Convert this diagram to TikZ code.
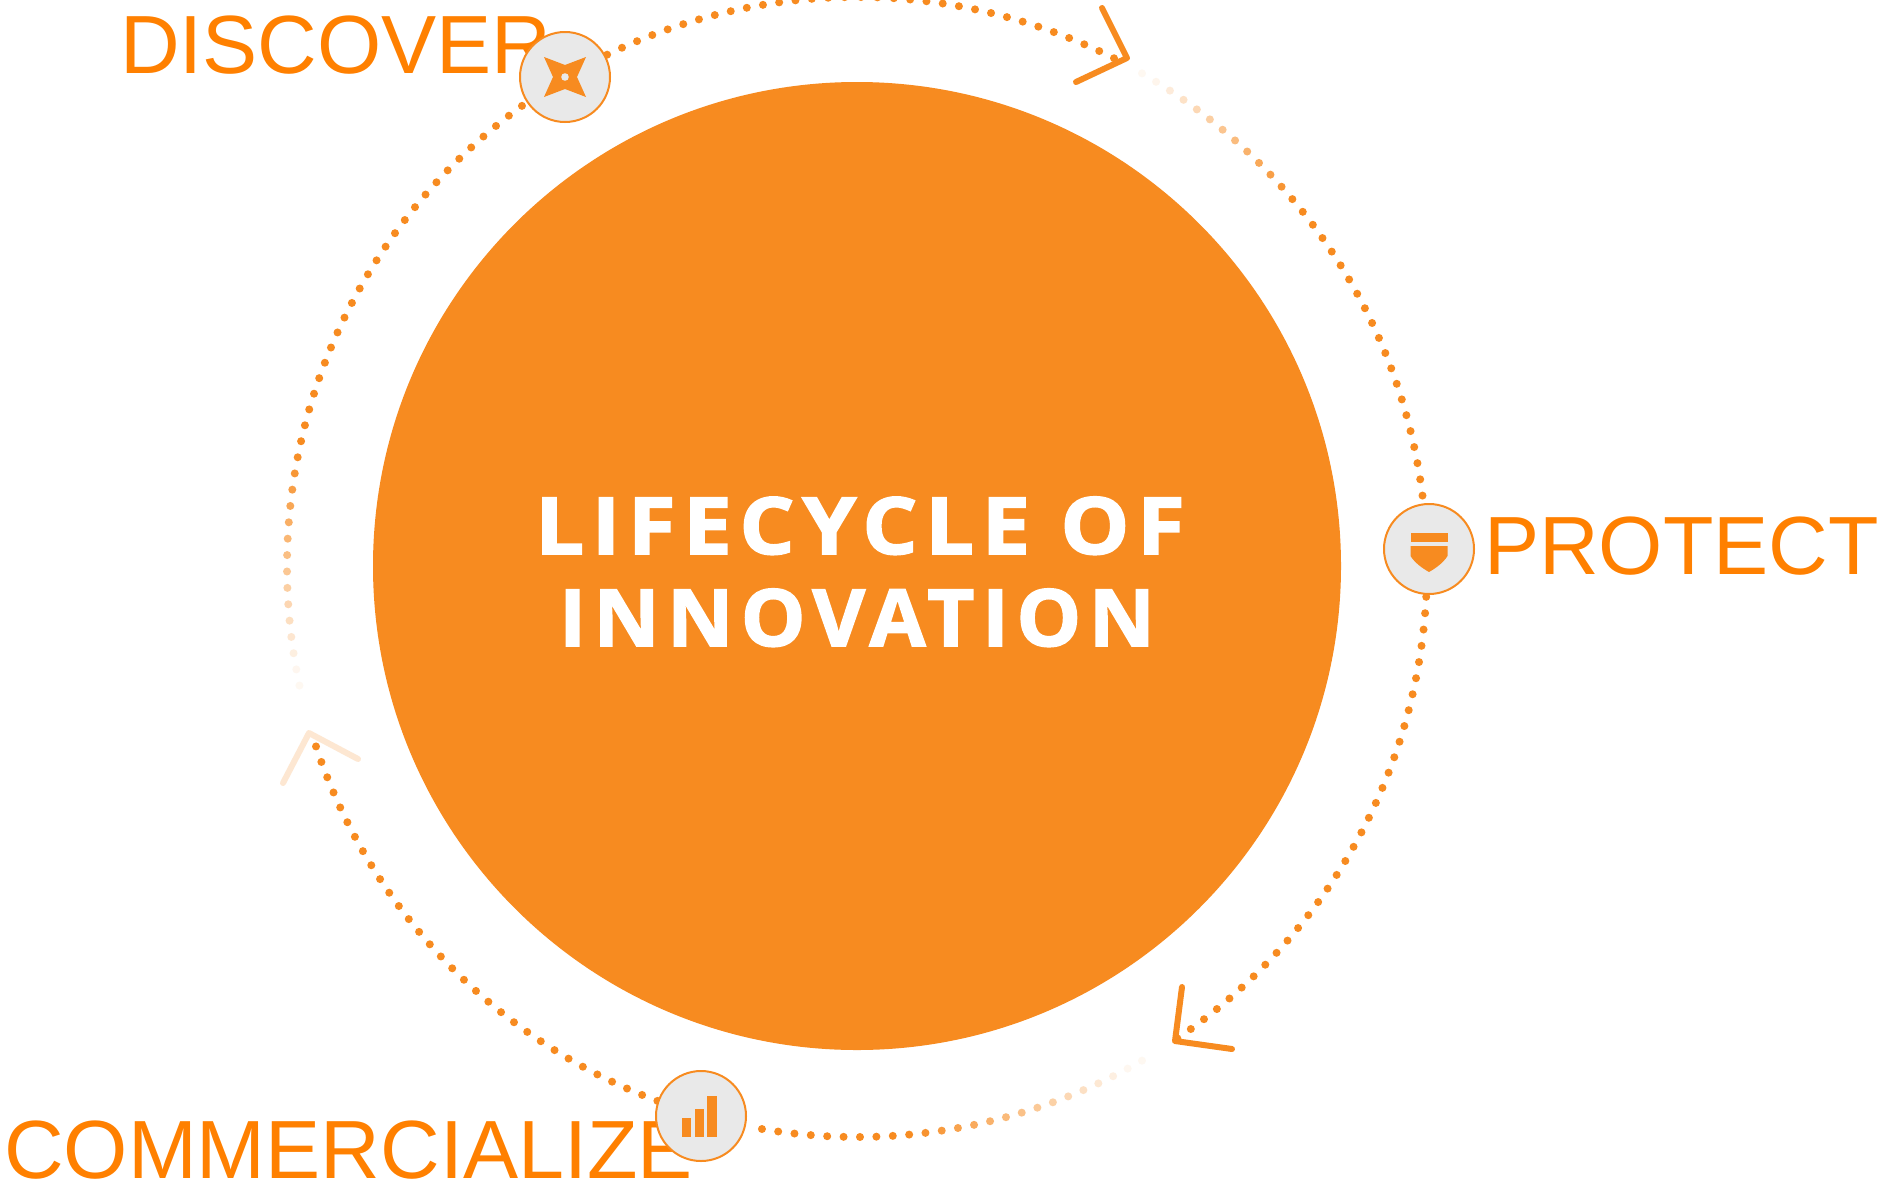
\documentclass[tikz,border=0pt]{standalone}
\usepackage{fontspec}
\setmainfont{Liberation Sans}
\newfontfamily\titlefonta[LetterSpace=9.5,FakeStretch=1.1,BoldFeatures={FakeBold=2}]{Open Sans}
\newfontfamily\titlefontb[LetterSpace=9.5,FakeStretch=1.03,BoldFeatures={FakeBold=2}]{Open Sans}
\definecolor{disc}{HTML}{F78B20}
\definecolor{lab}{HTML}{FF8000}
\definecolor{icon}{HTML}{E9E9E9}
\tikzset{
  disc/.style={circle,fill=disc,draw=none,minimum size=968pt,inner sep=0pt},
  iconbox/.style={circle,fill=icon,draw=disc,line width=2pt,minimum size=90pt,inner sep=0pt},
  steplabel/.style={text=lab,font=\fontsize{82.6}{84}\selectfont,inner sep=0pt,anchor=base west},
  titleone/.style={text=white,font=\titlefonta\bfseries\fontsize{79}{92}\selectfont,inner sep=0pt,anchor=base},
  titletwo/.style={text=white,font=\titlefontb\bfseries\fontsize{79}{92}\selectfont,inner sep=0pt,anchor=base},
  headline/.style={draw=disc,line width=6pt,line cap=round,line join=round},
  glyph/.style={fill=disc,draw=none}
}
% start angle, end angle, fade from, fade to (angles fall clockwise)
\newcommand{\dotarc}[4]{%
  \foreach \a in {#1,\fpeval{#1-1.65},...,#2}{%
    \pgfmathsetmacro{\op}{max(0.06,min(1,(#3-\a)/(#3-#4)))}%
    \fill[disc,opacity=\op] ($(ctr)+(\a:570)$) circle[radius=4];
  }%
}
\usetikzlibrary{calc}
\begin{document}
\begin{tikzpicture}[x=1pt,y=1pt]
\useasboundingbox (0,0) rectangle (1881,-1186);
\fill[white] (0,0) rectangle (1881,-1186);
\coordinate (ctr) at (857,-567);
% labels, under the icons
\node[steplabel] (ldisc) at (120,-73) {DISCOVER};
\node[steplabel] (lprot) at (1484,-574) {PROTECT};
\node[steplabel] (lcomm) at (4,-1178.5) {COMMERCIALIZE};
% central disc
\node[disc] (core) at (857,-566) {};
\node[titleone] (title) at (860,-554) {LIFECYCLE OF};
\node[titletwo] (titleb) at (857,-646) {INNOVATION};
% dotted ring
\dotarc{116}{62}{200}{150}
\dotarc{60}{4}{60}{40}
\dotarc{-3}{-56}{100}{50}
\dotarc{-60}{-100}{-60}{-85}
\dotarc{-110.5}{-163}{100}{50}
\dotarc{192}{123}{192}{168}
% arrowheads
\coordinate (a1t) at (1127,-58); \coordinate (a1a) at (1102,-8); \coordinate (a1b) at (1076,-82);
\draw[headline] (a1a) -- (a1t) -- (a1b);
\coordinate (a2t) at (1175,-1041); \coordinate (a2a) at (1182,-987); \coordinate (a2b) at (1232,-1049);
\draw[headline] (a2a) -- (a2t) -- (a2b);
\coordinate (a3t) at (309,-733); \coordinate (a3a) at (283,-783); \coordinate (a3b) at (358,-759);
\draw[headline,opacity=.2] (a3a) -- (a3t) -- (a3b);
% icons
\node[iconbox] (idisc) at (565,-77) {};
\node[iconbox] (iprot) at (1429,-549) {};
\node[iconbox] (icomm) at (701,-1116) {};
% star
\fill[glyph] ($(idisc)+(-21,20)$) -- ($(idisc)+(0,12)$) -- ($(idisc)+(21,20)$) -- ($(idisc)+(12,0)$)
  -- ($(idisc)+(21,-20)$) -- ($(idisc)+(0,-12)$) -- ($(idisc)+(-21,-20)$) -- ($(idisc)+(-12,0)$) -- cycle;
\fill[icon] (idisc) circle[radius=3.8];
% shield
\fill[glyph] ($(iprot)+(-18.5,15.7)$) rectangle ($(iprot)+(18.5,6.7)$);
\fill[glyph] ($(iprot)+(-18.5,3)$) -- ($(iprot)+(18.5,3)$) -- ($(iprot)+(18.5,-7)$)
  .. controls ($(iprot)+(14,-14)$) and ($(iprot)+(7,-19)$) .. ($(iprot)+(0,-23)$)
  .. controls ($(iprot)+(-7,-19)$) and ($(iprot)+(-14,-14)$) .. ($(iprot)+(-18.5,-7)$) -- cycle;
% bars
\fill[glyph] ($(icomm)+(-19,-21)$) rectangle ($(icomm)+(-9.7,-2)$);
\fill[glyph] ($(icomm)+(-6.3,-21)$) rectangle ($(icomm)+(3,7.3)$);
\fill[glyph] ($(icomm)+(6.3,-21)$) rectangle ($(icomm)+(15.7,19.7)$);
\end{tikzpicture}
\end{document}
